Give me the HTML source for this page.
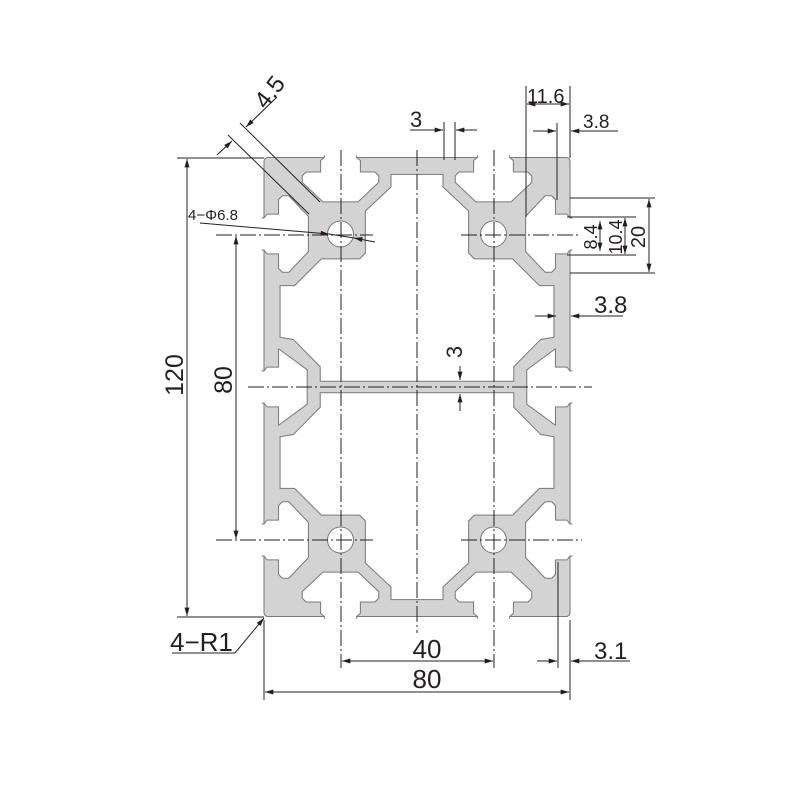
<!DOCTYPE html>
<html><head><meta charset="utf-8"><style>
html,body{margin:0;padding:0;background:#fff;}
svg{display:block;}
text{font-family:"Liberation Sans",sans-serif;fill:#231f20;}
</style></head><body>
<svg width="800" height="800" viewBox="0 0 800 800" xmlns="http://www.w3.org/2000/svg">
<defs>
<path id="slot" d="M-4.2,-0.6 L-4.2,0 L-5.2,0.8 L-5.2,3.8 L-9,3.8 L-10,4.8 L-10,6.5 L-4.6,11.6 L4.6,11.6 L10,6.5 L10,4.8 L9,3.8 L5.2,3.8 L5.2,0.8 L4.2,0 L4.2,-0.6"/>
<path id="slotm" d="M-4.2,-0.6 L-4.2,0 L-5.2,0.8 L-5.2,3.8 L-10,3.8 L-4.5,11.3 L4.5,11.3 L10,3.8 L5.2,3.8 L5.2,0.8 L4.2,0 L4.2,-0.6"/>
<path id="cav" d="M-6.8,-55.6 L-6.8,-52.3 L-13.5,-46 L-13.5,-35 L-15,-33.5 L-25,-33.5 L-32,-26.5 L-35.8,-26.5 L-35.8,-13 L-32.3,-12.4 L-25.3,-5.3 L-25.3,-1.5 L25.3,-1.5 L25.3,-5.3 L32.3,-12.4 L35.8,-13 L35.8,-26.5 L32,-26.5 L25,-33.5 L15,-33.5 L13.5,-35 L13.5,-46 L6.8,-52.3 L6.8,-55.6 Z"/>
<marker id="ar" viewBox="0 0 10 6" refX="10" refY="3" markerWidth="9" markerHeight="5" markerUnits="userSpaceOnUse" orient="auto"><path d="M0,0 L10,3 L0,6 Z" fill="#231f20"/></marker>
</defs>

<!-- profile -->
<g transform="translate(417,387) scale(3.825)" fill="#d3d3d3" stroke="#7a7a7a" stroke-width="0.27" stroke-linejoin="round">
  <rect x="-40" y="-60" width="80" height="120" rx="1"/>
  <g fill="#fff">
    <use href="#slot" transform="translate(-20,-60)"/>
    <use href="#slot" transform="translate(20,-60)"/>
    <use href="#slot" transform="translate(-20,60) scale(1,-1)"/>
    <use href="#slot" transform="translate(20,60) scale(1,-1)"/>
    <use href="#slot" transform="translate(-40,-40) rotate(-90)"/>
    <use href="#slot" transform="translate(-40,40) rotate(-90)"/>
    <use href="#slot" transform="translate(40,-40) rotate(90)"/>
    <use href="#slot" transform="translate(40,40) rotate(90)"/>
    <use href="#slotm" transform="translate(-40,0) rotate(-90)"/>
    <use href="#slotm" transform="translate(40,0) rotate(90)"/>
    <use href="#cav"/>
    <use href="#cav" transform="scale(1,-1)"/>
    <circle cx="-20" cy="-40" r="3.4"/>
    <circle cx="20" cy="-40" r="3.4"/>
    <circle cx="-20" cy="40" r="3.4"/>
    <circle cx="20" cy="40" r="3.4"/>
  </g>
</g>

<!-- center lines -->
<g stroke="#231f20" stroke-width="1" fill="none" stroke-dasharray="16,3,2,3">
  <line x1="341" y1="150" x2="341" y2="668"/>
  <line x1="417" y1="150" x2="417" y2="633"/>
  <line x1="494" y1="150" x2="494" y2="668"/>
  <line x1="216" y1="235" x2="373" y2="235"/>
  <line x1="461" y1="235" x2="578" y2="235"/>
  <line x1="216" y1="540" x2="373" y2="540"/>
  <line x1="461" y1="540" x2="582" y2="540"/>
  <line x1="248" y1="387" x2="592" y2="387"/>
</g>

<!-- dimension lines -->
<g stroke="#231f20" stroke-width="1" fill="none">
  <line x1="177" y1="158" x2="264" y2="158"/>
  <line x1="177" y1="617" x2="264" y2="617"/>
  <line x1="187" y1="388" x2="187" y2="159" marker-end="url(#ar)"/>
  <line x1="187" y1="388" x2="187" y2="616" marker-end="url(#ar)"/>
  <line x1="236" y1="388" x2="236" y2="236" marker-end="url(#ar)"/>
  <line x1="236" y1="388" x2="236" y2="539" marker-end="url(#ar)"/>
  <line x1="264" y1="620" x2="264" y2="700"/>
  <line x1="570" y1="620" x2="570" y2="700"/>
  <line x1="417" y1="692" x2="265" y2="692" marker-end="url(#ar)"/>
  <line x1="417" y1="692" x2="569" y2="692" marker-end="url(#ar)"/>
  <line x1="417" y1="661" x2="342" y2="661" marker-end="url(#ar)"/>
  <line x1="417" y1="661" x2="493" y2="661" marker-end="url(#ar)"/>
  <line x1="558" y1="562" x2="558" y2="668"/>
  <line x1="537" y1="661" x2="557" y2="661" marker-end="url(#ar)"/>
  <line x1="630" y1="661" x2="571" y2="661" marker-end="url(#ar)"/>
  <polyline points="172,653 235,653 264,618" marker-end="url(#ar)"/>
  <line x1="200" y1="223" x2="329" y2="234" marker-end="url(#ar)"/>
  <line x1="375" y1="242" x2="354" y2="238" marker-end="url(#ar)"/>
  <line x1="329" y1="234" x2="354" y2="238"/>
  <line x1="240" y1="123" x2="320" y2="202"/>
  <line x1="228" y1="135" x2="309" y2="214"/>
  <line x1="217" y1="155" x2="232" y2="141" marker-end="url(#ar)"/>
  <line x1="277" y1="97" x2="246" y2="127" marker-end="url(#ar)"/>
  <line x1="444" y1="122" x2="444" y2="160"/>
  <line x1="455" y1="122" x2="455" y2="160"/>
  <line x1="410" y1="130" x2="443" y2="130" marker-end="url(#ar)"/>
  <line x1="477" y1="130" x2="456" y2="130" marker-end="url(#ar)"/>
  <line x1="526" y1="86" x2="526" y2="217"/>
  <line x1="570" y1="86" x2="570" y2="158"/>
  <line x1="548" y1="104" x2="527" y2="104" marker-end="url(#ar)"/>
  <line x1="548" y1="104" x2="569" y2="104" marker-end="url(#ar)"/>
  <line x1="557" y1="123" x2="557" y2="200"/>
  <line x1="533" y1="131" x2="556" y2="131" marker-end="url(#ar)"/>
  <line x1="618" y1="131" x2="571" y2="131" marker-end="url(#ar)"/>
  <line x1="570" y1="198" x2="655" y2="198"/>
  <line x1="570" y1="273" x2="655" y2="273"/>
  <line x1="567" y1="217" x2="636" y2="217"/>
  <line x1="567" y1="255" x2="636" y2="255"/>
  <line x1="600" y1="236" x2="600" y2="221" marker-end="url(#ar)"/>
  <line x1="600" y1="236" x2="600" y2="251" marker-end="url(#ar)"/>
  <line x1="625" y1="236" x2="625" y2="218" marker-end="url(#ar)"/>
  <line x1="625" y1="236" x2="625" y2="254" marker-end="url(#ar)"/>
  <line x1="649" y1="236" x2="649" y2="199" marker-end="url(#ar)"/>
  <line x1="649" y1="236" x2="649" y2="272" marker-end="url(#ar)"/>
  <line x1="535" y1="316" x2="556" y2="316" marker-end="url(#ar)"/>
  <line x1="623" y1="316" x2="571" y2="316" marker-end="url(#ar)"/>
  <line x1="460" y1="366" x2="460" y2="380" marker-end="url(#ar)"/>
  <line x1="460" y1="411" x2="460" y2="394" marker-end="url(#ar)"/>
</g>

<!-- texts -->
<text x="0" y="0" font-size="25" text-anchor="middle" transform="translate(183,375) rotate(-90)">120</text>
<text x="0" y="0" font-size="25" text-anchor="middle" transform="translate(232,380) rotate(-90)">80</text>
<text x="188" y="220" font-size="15">4−Φ6.8</text>
<text x="0" y="0" font-size="24" text-anchor="middle" transform="translate(276,97) rotate(-52)">4.5</text>
<text x="410" y="127" font-size="22">3</text>
<text x="527" y="103" font-size="20">11.6</text>
<text x="583" y="128" font-size="19">3.8</text>
<text x="0" y="0" font-size="18" text-anchor="middle" transform="translate(597,237) rotate(-90)">8.4</text>
<text x="0" y="0" font-size="18" text-anchor="middle" transform="translate(622,237) rotate(-90)">10.4</text>
<text x="0" y="0" font-size="20" text-anchor="middle" transform="translate(645,237) rotate(-90)">20</text>
<text x="594" y="313" font-size="24">3.8</text>
<text x="0" y="0" font-size="22" text-anchor="middle" transform="translate(462,352) rotate(-90)">3</text>
<text x="427" y="658" font-size="26" text-anchor="middle">40</text>
<text x="427" y="688" font-size="26" text-anchor="middle">80</text>
<text x="594" y="659" font-size="24">3.1</text>
<text x="170" y="651" font-size="26">4−R1</text>
</svg>
</body></html>
